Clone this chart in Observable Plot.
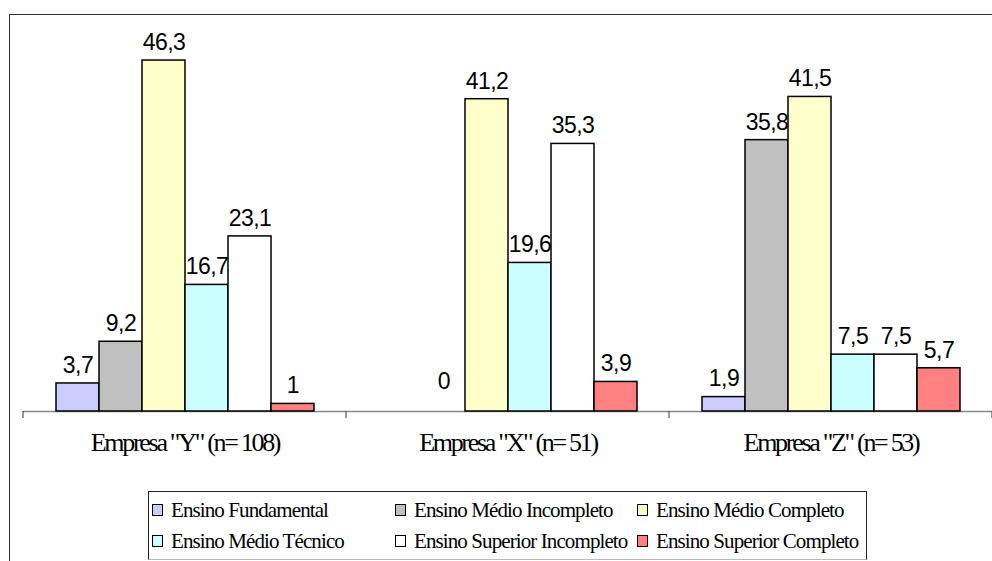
<!DOCTYPE html>
<html>
<head>
<meta charset="utf-8">
<script src="https://cdn.jsdelivr.net/npm/d3@7"></script>
<script src="https://cdn.jsdelivr.net/npm/@observablehq/plot@0.6"></script>
<style>
  body { margin: 0; background: #fff; }
  #wrap { position: relative; width: 992px; height: 561px; overflow: hidden; background: #fff; }
  #frame { position: absolute; left: 9px; top: 14px; width: 1100px; height: 700px;
           border-top: 1px solid #333; border-left: 1px solid #333; }
  #chart { position: absolute; left: 0; top: 0; }
  #legend { position: absolute; left: 148px; top: 491px; width: 717px; height: 67px;
            border: 1px solid #222; border-bottom-color: #bbb; background: #fff; }
</style>
</head>
<body>
<div id="wrap">
  <div id="frame"></div>
  <div id="chart"></div>
  <div id="legend"></div>
</div>
<script>
// Escolaridade dos funcionários por empresa (%)
const groups = ['Empresa "Y" (n= 108)', 'Empresa "X" (n= 51)', 'Empresa "Z" (n= 53)'];
const series = [
  "Ensino Fundamental",
  "Ensino Médio Incompleto",
  "Ensino Médio Completo",
  "Ensino Médio Técnico",
  "Ensino Superior Incompleto",
  "Ensino Superior Completo"
];
const colors = ["#CCCCFF", "#C0C0C0", "#FFFFCC", "#CCFFFF", "#FFFFFF", "#FF8080"];
const valuesY = [3.7, 9.2, 46.3, 16.7, 23.1, 1];
const valuesX = [null, 0, 41.2, 19.6, 35.3, 3.9];
const valuesZ = [1.9, 35.8, 41.5, 7.5, 7.5, 5.7];

const SERIF = "'Liberation Serif', 'Times New Roman', serif";
const SANS = "'Liberation Sans', Arial, sans-serif";

const byGroup = [valuesY, valuesX, valuesZ];
const rows = [];
groups.forEach((g, i) => {
  series.forEach((s, j) => {
    const v = byGroup[i][j];
    if (v !== null) rows.push({group: g, series: s, value: v});
  });
});

const fmt = v => String(v).replace(".", ",");

const plot = Plot.plot({
  width: 992,
  height: 480,
  marginTop: 32,
  marginBottom: 69,
  marginLeft: 23,
  marginRight: 0,
  fx: {domain: groups, padding: 0, axis: null},
  x: {domain: series, paddingInner: 0, paddingOuter: 0.741, axis: null},
  y: {domain: [0, 50], axis: null},
  color: {domain: series, range: colors},
  marks: [
    Plot.ruleY([0], {stroke: "#888", strokeWidth: 1.5}),
    Plot.barY(rows, {
      fx: "group", x: "series", y: "value", fill: "series",
      stroke: "#000", strokeWidth: 1.5
    }),
    // value labels above each bar
    Plot.text(rows.filter(d => d.value > 0), {
      fx: "group", x: "series", y: "value",
      text: d => fmt(d.value), dy: -18,
      fontSize: 23, fill: "#000"
    }),
    // zero values sit a little higher, clear of the axis line
    Plot.text(rows.filter(d => d.value === 0), {
      fx: "group", x: "series", y: "value",
      text: d => fmt(d.value), dy: -30,
      fontSize: 23, fill: "#000"
    }),
    Plot.text(groups, {
      fx: d => d, text: d => d, frameAnchor: "bottom", dy: 39,
      fontSize: 26, fill: "#000"
    })
  ]
});

// Typeface and tracking for the value labels and the category labels
d3.select(plot).selectAll("text").each(function() {
  const t = d3.select(this);
  const isGroup = groups.includes(t.text());
  t.style("font-family", isGroup ? SERIF : SANS)
   .style("letter-spacing", isGroup ? "-2.3px" : "-0.5px");
});

// Tick marks at the category boundaries, from the facet scale
const fx = plot.scale("fx");
const y0 = plot.scale("y").apply(0);
const edges = groups.map(g => fx.apply(g));
edges.push(fx.apply(groups[groups.length - 1]) + fx.bandwidth);
d3.select(plot).append("g")
  .selectAll("line").data(edges).join("line")
  .attr("x1", d => d).attr("x2", d => d)
  .attr("y1", y0).attr("y2", y0 + 7)
  .attr("stroke", "#555").attr("stroke-width", 1.2);

document.getElementById("chart").appendChild(plot);

// Legend: two rows of three entries
const leg = d3.select("#legend").append("svg")
  .attr("width", 717).attr("height", 67);
const colX = [3, 246, 488];
const rowBase = [25, 56];
const items = leg.selectAll("g").data(series).join("g")
  .attr("transform", (d, i) => `translate(${colX[i % 3]},${rowBase[Math.floor(i / 3)]})`);
items.append("rect")
  .attr("x", 0.5).attr("y", -12.5).attr("width", 10).attr("height", 11)
  .attr("fill", (d, i) => colors[i]).attr("stroke", "#000").attr("stroke-width", 1);
items.append("text")
  .attr("x", 19).attr("y", 0)
  .style("font-family", SERIF).style("font-size", "21px")
  .style("letter-spacing", "-0.9px")
  .attr("fill", "#000")
  .text(d => d);
</script>
</body>
</html>
